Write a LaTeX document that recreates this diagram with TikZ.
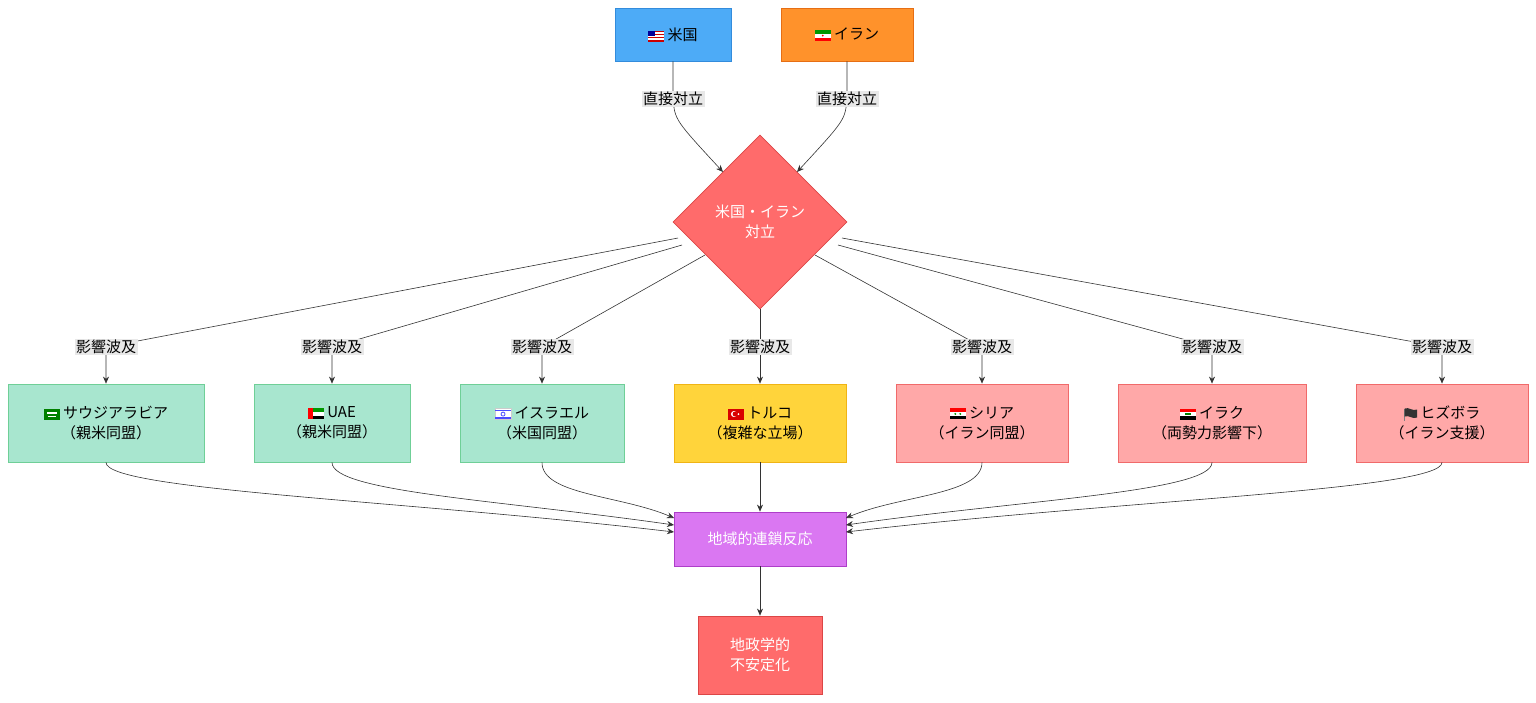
\documentclass[tikz,border=0pt]{standalone}
\usepackage{fontspec}
\setmainfont{Noto Sans CJK JP}
\usetikzlibrary{shapes.geometric,arrows.meta}
\newcommand{\flg}[1]{\tikz[baseline=-0.5ex,x=1pt,y=1pt]{#1}}
\newcommand{\fUS}{\flg{\fill[red!80!black](0,-5.5)rectangle(16,5.5);\foreach \i in {0,2,4}{\fill[white](0,-5.5+\i*1.57+1.57)rectangle(16,-5.5+\i*1.57+3.14);}\fill[blue!60!black](0,0)rectangle(7,5.5);}}
\newcommand{\fIR}{\flg{\fill[green!60!black](0,2)rectangle(16,5.5);\fill[white](0,-2)rectangle(16,2);\fill[red](0,-5.5)rectangle(16,-2);\fill[red](8,0)circle(1);}}
\newcommand{\fSA}{\flg{\fill[green!50!black](0,-5.5)rectangle(16,5.5);\fill[white](3,0.5)rectangle(13,2.5);\fill[white](4,-2)rectangle(12,-1.2);}}
\newcommand{\fAE}{\flg{\fill[green!60!black](0,2)rectangle(16,5.5);\fill[white](0,-2)rectangle(16,2);\fill[black](0,-5.5)rectangle(16,-2);\fill[red](0,-5.5)rectangle(5,5.5);}}
\newcommand{\fIL}{\flg{\fill[white,draw=gray!40](0,-5.5)rectangle(16,5.5);\fill[blue!70](0,3)rectangle(16,4.5);\fill[blue!70](0,-4.5)rectangle(16,-3);\draw[blue!70,line width=0.8pt](8,0)circle(2);}}
\newcommand{\fTR}{\flg{\fill[red!85!black](0,-5.5)rectangle(16,5.5);\fill[white](6,0)circle(3);\fill[red!85!black](7,0)circle(2.4);\fill[white](10.5,0)circle(1);}}
\newcommand{\fSY}{\flg{\fill[red](0,2)rectangle(16,5.5);\fill[white](0,-2)rectangle(16,2);\fill[black](0,-5.5)rectangle(16,-2);\fill[green!60!black](5.5,0)circle(1.1);\fill[green!60!black](10.5,0)circle(1.1);}}
\newcommand{\fIQ}{\flg{\fill[red](0,2)rectangle(16,5.5);\fill[white](0,-2)rectangle(16,2);\fill[black](0,-5.5)rectangle(16,-2);\fill[green!50!black](5,-1)rectangle(11,1);}}
\newcommand{\fBK}{\flg{\draw[gray,line width=1pt](1,-6)--(1,6);\fill[black!80](1.5,6)..controls(6,8)and(9,3)..(14,5)--(14,-3)..controls(9,-5)and(6,0)..(1.5,-2)--cycle;}}
\begin{document}
\begin{tikzpicture}[x=1pt,y=-1pt,
  font=\fontsize{15}{20}\selectfont,
  box/.style={draw,line width=0.8pt,rectangle,inner sep=0,align=center},
  lab/.style={fill=gray!18,inner sep=1.5pt,font=\fontsize{15}{18}\selectfont},
  arr/.style={draw=black!80,line width=0.6pt,-{Stealth[length=7pt,width=6pt]}},
  grn/.style={box,fill={rgb,255:red,168;green,230;blue,207},draw={rgb,255:red,111;green,207;blue,151}},
  pnk/.style={box,fill={rgb,255:red,255;green,168;blue,168},draw={rgb,255:red,240;green,106;blue,106}}]
\useasboundingbox (0,0) rectangle (1536,702);
\node[box,fill={rgb,255:red,77;green,171;blue,247},draw={rgb,255:red,51;green,140;blue,220},minimum width=116pt,minimum height=53pt] (us) at (673,34.5) {\fUS\ 米国};
\node[box,fill={rgb,255:red,255;green,146;blue,43},draw={rgb,255:red,230;green,110;blue,20},minimum width=132pt,minimum height=53pt] (ir) at (847,34.5) {\fIR\ イラン};
\node[diamond,draw={rgb,255:red,220;green,70;blue,70},line width=0.8pt,fill={rgb,255:red,255;green,107;blue,107},minimum width=174pt,minimum height=174pt,inner sep=0,align=center,text=white] (d) at (760,222) {米国・イラン\\対立};
\node[grn,minimum width=196pt,minimum height=78pt] (sa) at (106,423) {\fSA\ サウジアラビア\\（親米同盟）};
\node[grn,minimum width=156pt,minimum height=78pt] (ae) at (332,423) {\fAE\ UAE\\（親米同盟）};
\node[grn,minimum width=164pt,minimum height=78pt] (il) at (542,423) {\fIL\ イスラエル\\（米国同盟）};
\node[box,fill={rgb,255:red,255;green,212;blue,59},draw={rgb,255:red,240;green,180;blue,20},minimum width=172pt,minimum height=78pt] (tr) at (760,423) {\fTR\ トルコ\\（複雑な立場）};
\node[pnk,minimum width=172pt,minimum height=78pt] (sy) at (982,423) {\fSY\ シリア\\（イラン同盟）};
\node[pnk,minimum width=188pt,minimum height=78pt] (iq) at (1212,423) {\fIQ\ イラク\\（両勢力影響下）};
\node[pnk,minimum width=172pt,minimum height=78pt] (hz) at (1442,423) {\fBK\ ヒズボラ\\（イラン支援）};
\node[box,fill={rgb,255:red,218;green,119;blue,242},draw={rgb,255:red,174;green,62;blue,201},text=white,minimum width=172pt,minimum height=54pt] (r) at (760,539) {地域的連鎖反応};
\node[box,fill={rgb,255:red,255;green,107;blue,107},draw={rgb,255:red,220;green,70;blue,70},text=white,minimum width=124pt,minimum height=78pt] (g) at (760,655) {地政学的\\不安定化};
% top edges
\coordinate (l1) at (673,99); \coordinate (l2) at (847,99);
\draw[arr] (us.south) .. controls (673,80) and (673,90) .. (l1) .. controls (675,120) .. (723,172);
\draw[arr] (ir.south) .. controls (847,80) and (847,90) .. (l2) .. controls (845,120) .. (797,172);
\node[lab] (t1) at (l1) {直接対立};
\node[lab] (t2) at (l2) {直接対立};
% fan out
\foreach \b/\x/\sx/\sy in {sa/106/678/238, ae/332/682/245, il/542/705/255, sy/982/815/255, iq/1212/838/245, hz/1442/842/238}{
  \draw[arr] (\sx,\sy) -- (\x,347) .. controls (\x,362) .. (\b.north);
}
\draw[arr] (d.south) -- (tr.north);
\foreach \b/\x in {sa/106, ae/332, il/542, tr/760, sy/982, iq/1212, hz/1442}{
  \node[lab] (w\b) at (\x,347) {影響波及};
}
% converge
\draw[arr] (sa.south) .. controls (106,490) and (400,500) .. (674,532);
\draw[arr] (ae.south) .. controls (332,492) and (500,500) .. (674,525);
\draw[arr] (il.south) .. controls (542,495) and (620,495) .. (674,518);
\draw[arr] (tr.south) -- (r.north);
\draw[arr] (sy.south) .. controls (982,495) and (900,495) .. (846,518);
\draw[arr] (iq.south) .. controls (1212,492) and (1020,500) .. (846,525);
\draw[arr] (hz.south) .. controls (1442,490) and (1120,500) .. (846,532);
\draw[arr] (r.south) -- (g.north);
\end{tikzpicture}
\end{document}
